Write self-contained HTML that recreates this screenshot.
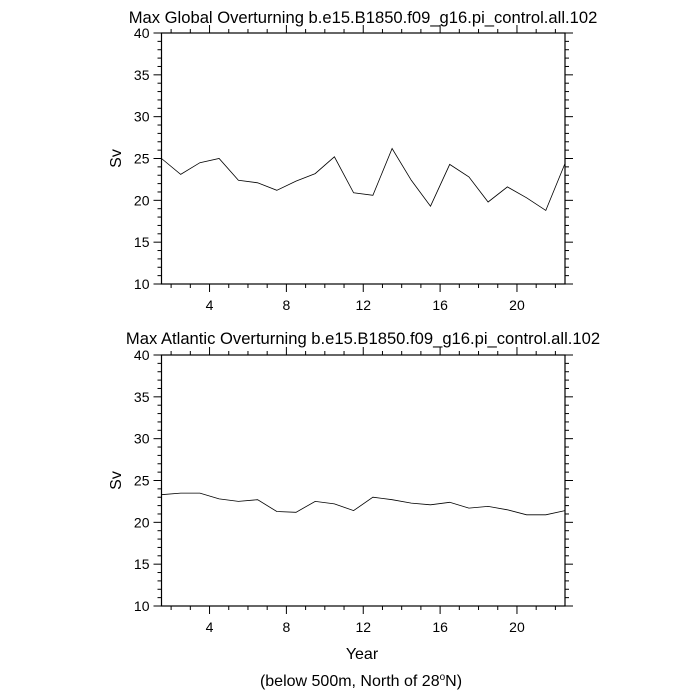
<!DOCTYPE html>
<html><head><meta charset="utf-8"><style>
body{margin:0;background:#fff}
svg{display:block;font-family:"Liberation Sans",sans-serif}
</style></head><body>
<svg id="s" width="700" height="700" xmlns="http://www.w3.org/2000/svg">
<text x="363" y="23" font-size="16.6" text-anchor="middle">Max Global Overturning b.e15.B1850.f09_g16.pi_control.all.102</text>
<text x="363" y="344" font-size="16.6" text-anchor="middle">Max Atlantic Overturning b.e15.B1850.f09_g16.pi_control.all.102</text>
<text x="362" y="659" font-size="16" text-anchor="middle">Year</text>
<text x="361" y="686" font-size="16" text-anchor="middle">(below 500m, North of 28<tspan font-size="10" dy="-6">o</tspan><tspan dy="6">N)</tspan></text>
</svg>
<script>
var s=document.getElementById('s');var NS='http://www.w3.org/2000/svg';
function el(t,a,txt){var e=document.createElementNS(NS,t);for(var k in a)e.setAttribute(k,a[k]);if(txt)e.textContent=txt;s.appendChild(e);return e;}
var L=161.5,R=565,ppy=(R-L)/21;
function X(yr){return L+(yr-1.5)*ppy;}
var d1=[25.0,23.1,24.5,25.0,22.4,22.1,21.2,22.3,23.2,25.2,20.9,20.6,26.2,22.4,19.3,24.3,22.8,19.8,21.6,20.3,18.8,24.4];
var d2=[23.3,23.5,23.5,22.8,22.5,22.7,21.3,21.2,22.5,22.2,21.4,23.0,22.7,22.3,22.1,22.4,21.7,21.9,21.5,20.9,20.9,21.4];
function plot(T,B,data,xl){
 function Y(v){return B-(v-10)*(B-T)/30;}
 el('rect',{x:L,y:T,width:R-L,height:B-T,fill:'none',stroke:'#000','stroke-width':1.2});
 for(var v=10;v<=40;v++){var y=Y(v),m=v%5==0,l=m?8:4;
  el('line',{x1:L-l,y1:y,x2:L,y2:y,stroke:'#000','stroke-width':1});
  el('line',{x1:R,y1:y,x2:R+l,y2:y,stroke:'#000','stroke-width':1});
  if(m)el('text',{x:L-12,y:y+5,'font-size':14,'text-anchor':'end'},String(v));}
 for(var yr=2;yr<=22;yr++){var x=X(yr),m=yr%4==0,l=m?8:4;
  el('line',{x1:x,y1:B,x2:x,y2:B+l,stroke:'#000','stroke-width':1});
  el('line',{x1:x,y1:T-l,x2:x,y2:T,stroke:'#000','stroke-width':1});
  if(m&&xl)el('text',{x:x,y:B+26,'font-size':14,'text-anchor':'middle'},String(yr));}
 var p=data.map(function(v,i){return X(1.5+i).toFixed(1)+','+Y(v).toFixed(1)}).join(' ');
 el('polyline',{points:p,fill:'none',stroke:'#000','stroke-width':0.8});
 var cy=(T+B)/2;
 el('text',{x:121,y:cy,'font-size':16,'text-anchor':'middle',transform:'rotate(-90 121 '+cy+')'},'Sv');
}
plot(33,284,d1,true);plot(355,606,d2,true);
</script>
</body></html>
